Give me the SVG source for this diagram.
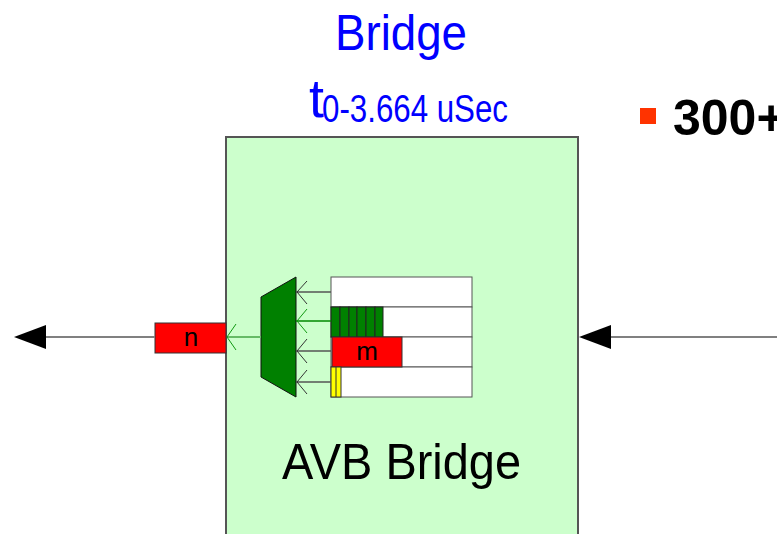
<svg xmlns="http://www.w3.org/2000/svg" width="777" height="534" viewBox="0 0 777 534">
<style>
.t{font-family:"Liberation Sans",Arial,sans-serif}
.blue{fill:#0000FF}
.q{fill:#FFFFFF;stroke:#555555;stroke-width:1}
.ln{stroke:#808080;stroke-width:2;fill:none}
.ch{fill:none;stroke:#333333;stroke-width:1}
.chg{fill:none;stroke:#119911;stroke-width:1}
.cell{fill:#008000;stroke:#222222;stroke-width:1}
</style>
<rect width="777" height="534" fill="#FFFFFF"/>

<g id="title">
<text class="t blue" x="335" y="50" font-size="50" textLength="132" lengthAdjust="spacingAndGlyphs">Bridge</text>
<text class="t blue" x="309" y="117" font-size="54" textLength="15" lengthAdjust="spacingAndGlyphs">t</text>
<text class="t blue" x="322" y="122" font-size="38" textLength="186" lengthAdjust="spacingAndGlyphs">0-3.664 uSec</text>
</g>

<g id="bullet">
<rect x="640" y="108" width="16" height="16" fill="#FF3300"/>
<text class="t" x="673" y="135" font-size="50" font-weight="bold" fill="#000">300+</text>
</g>

<g id="avb-bridge">
<rect x="226" y="137" width="352" height="420" fill="#CCFFCC" stroke="#555555" stroke-width="2"/>
<text class="t" x="282" y="479" font-size="50" fill="#000" textLength="239" lengthAdjust="spacingAndGlyphs">AVB Bridge</text>
</g>

<g id="queues">
<rect class="q" x="331" y="277" width="141" height="30"/>
<rect class="q" x="331" y="307" width="141" height="30"/>
<rect class="q" x="331" y="337" width="141" height="30"/>
<rect class="q" x="331" y="367" width="141" height="30"/>
<rect class="cell" x="331" y="307" width="9" height="30"/>
<rect class="cell" x="340" y="307" width="9" height="30"/>
<rect class="cell" x="349" y="307" width="8" height="30"/>
<rect class="cell" x="357" y="307" width="9" height="30"/>
<rect class="cell" x="366" y="307" width="9" height="30"/>
<rect class="cell" x="375" y="307" width="8" height="30"/>
<rect x="332" y="337" width="70" height="30" fill="#FF0000" stroke="#333333" stroke-width="1"/>
<text class="t" x="367" y="360" font-size="26" text-anchor="middle" fill="#000">m</text>
<rect x="331" y="367" width="10" height="30" fill="#FFFF00" stroke="#333333" stroke-width="1"/>
<line x1="336" y1="367" x2="336" y2="397" stroke="#333333" stroke-width="1"/>
</g>

<g id="mux">
<polygon points="261,297 296,277 296,397 261,377" fill="#008000" stroke="#111111" stroke-width="1"/>
</g>

<g id="frame-n">
<rect x="155" y="323" width="71" height="30" fill="#FF0000" stroke="#333333" stroke-width="1"/>
<text class="t" x="191" y="346" font-size="26" text-anchor="middle" fill="#000">n</text>
</g>

<g id="connectors">
<line class="ln" x1="155" y1="337" x2="46" y2="337"/>
<path d="M14,337 L46,325 L46,349 Z" fill="#000"/>
<line class="ln" x1="777" y1="337" x2="610" y2="337"/>
<path d="M579,337 L611,325 L611,349 Z" fill="#000"/>
<line x1="261" y1="337" x2="227" y2="337" stroke="#66BB66" stroke-width="2"/>
<path class="chg" d="M236,324 L227,337 L236,350"/>
<line x1="331" y1="292" x2="296" y2="292" stroke="#555555" stroke-width="1.5"/>
<path class="ch" d="M307,281 L297,292 L307,304"/>
<line x1="331" y1="321" x2="296" y2="321" stroke="#008800" stroke-width="1.5"/>
<path class="chg" d="M307,309 L297,321 L307,333"/>
<line x1="331" y1="351" x2="296" y2="351" stroke="#555555" stroke-width="1.5"/>
<path class="ch" d="M307,339 L297,351 L307,363"/>
<line x1="331" y1="382" x2="296" y2="382" stroke="#555555" stroke-width="1.5"/>
<path class="ch" d="M307,370 L297,382 L307,394"/>
</g>
</svg>
